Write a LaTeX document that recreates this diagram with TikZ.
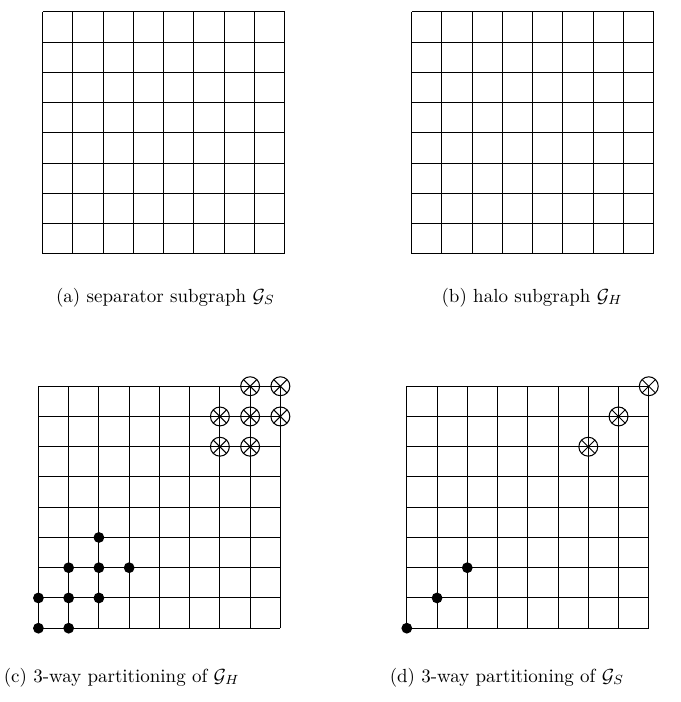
\documentclass[tikz,border=0pt]{standalone}
\usepackage{amsmath,amssymb}
\usepackage{tikz}
\usetikzlibrary{calc,positioning}
\tikzset{
  gridline/.style={line width=0.5pt},
  owndot/.style={circle,fill=black,inner sep=0pt,minimum size=0.2cm},
  crossdot/.style={circle,draw,line width=0.55pt,inner sep=0pt,minimum size=0.35cm,
    path picture={\draw[line width=0.5pt] (path picture bounding box.north west)--(path picture bounding box.south east)
      (path picture bounding box.north east)--(path picture bounding box.south west);}},
  caption/.style={anchor=base,inner sep=0pt}
}

\begin{document}
\begin{tikzpicture}[x=0.56cm,y=0.56cm]
\useasboundingbox (0,0) rectangle (22.51,23.21);
% (a) separator subgraph
\begin{scope}[shift={(1.41,14.82)}]
  \draw[gridline,step=1] (0,0) grid (8,8);
\end{scope}
% (b) halo subgraph
\begin{scope}[shift={(13.61,14.82)}]
  \draw[gridline,step=1] (0,0) grid (8,8);
\end{scope}
% (c) 3-way partitioning of G_H
\begin{scope}[shift={(1.27,2.44)}]
  \draw[gridline,step=1] (0,0) grid (8,8);
  \foreach \i/\j in {0/0,1/0,0/1,1/1,2/1,1/2,2/2,3/2,2/3}
    \node[owndot] (c-dot-\i-\j) at (\i,\j) {};
  \foreach \i/\j in {7/8,8/8,6/7,7/7,8/7,6/6,7/6}
    \node[crossdot] (c-cross-\i-\j) at (\i,\j) {};
\end{scope}
% (d) 3-way partitioning of G_S
\begin{scope}[shift={(13.45,2.44)}]
  \draw[gridline,step=1] (0,0) grid (8,8);
  \foreach \k in {0,1,2}
    \node[owndot] (d-dot-\k) at (\k,\k) {};
  \foreach \k in {6,7,8}
    \node[crossdot] (d-cross-\k) at (\k,\k) {};
\end{scope}
% captions
\node[caption] (capa) at (5.47,13.22) {(a) separator subgraph $\mathcal{G}_S$};
\node[caption] (capb) at (17.59,13.22) {(b) halo subgraph $\mathcal{G}_H$};
\node[caption] (capc) at (4.02,0.66) {(c) 3-way partitioning of $\mathcal{G}_H$};
\node[caption] (capd) at (16.76,0.66) {(d) 3-way partitioning of $\mathcal{G}_S$};
\end{tikzpicture}
\end{document}
